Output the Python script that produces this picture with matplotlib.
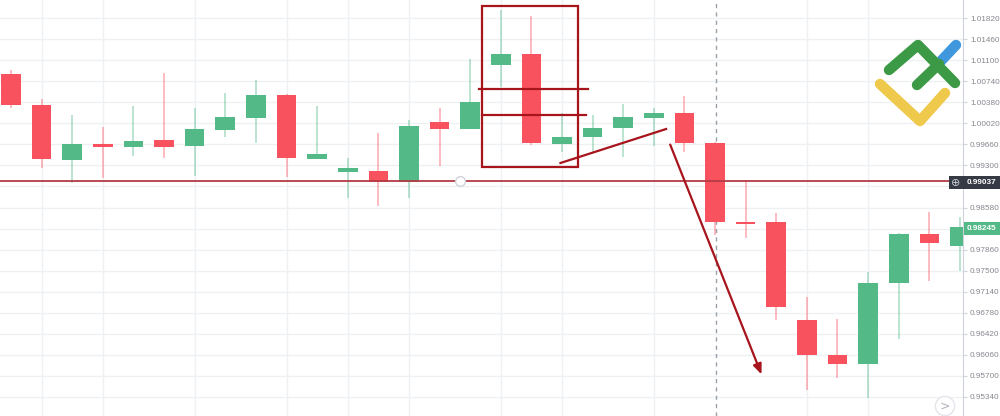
import matplotlib
matplotlib.use("Agg")
import matplotlib.pyplot as plt
from matplotlib.lines import Line2D
from matplotlib.patches import Rectangle

# --- dados das velas ---
opens = [1.00863, 1.00333, 0.99392, 0.99666, 0.99615, 0.99734, 0.99632, 0.99905,
         1.00110, 1.00504, 0.99409, 0.99187, 0.99204, 0.99016, 1.00042, 0.99922,
         1.01016, 1.01205, 0.99666, 0.99785, 0.99939, 1.00110, 1.00196, 0.99683,
         0.98332, 0.98332, 0.96657, 0.96058, 0.95904, 0.97289, 0.98127, 0.97922]
closes = [1.00333, 0.99409, 0.99666, 0.99615, 0.99717, 0.99615, 0.99922, 1.00127,
          1.00504, 0.99426, 0.99495, 0.99255, 0.99016, 0.99974, 0.99922, 1.00384,
          1.01205, 0.99683, 0.99785, 0.99939, 1.00127, 1.00196, 0.99683, 0.98332,
          0.98298, 0.96879, 0.96058, 0.95904, 0.97289, 0.98127, 0.97973, 0.98245]
highs = [1.00931, 1.00435, 1.00162, 0.99956, 1.00316, 1.00880, 1.00281, 1.00538,
         1.00760, 1.00521, 1.00316, 0.99426, 0.99854, 1.00076, 1.00281, 1.01119,
         1.01957, 1.01854, 1.00196, 1.00162, 1.00350, 1.00281, 1.00486, 0.99700,
         0.99050, 0.98486, 0.97050, 0.96674, 0.97477, 0.98140, 0.98503, 0.98418]
lows = [1.00281, 0.99255, 0.98999, 0.99084, 0.99461, 0.99426, 0.99119, 0.99785,
        0.99683, 0.99102, 0.99409, 0.98743, 0.98606, 0.98743, 0.99290, 0.99922,
        1.00640, 0.99649, 0.99529, 0.99529, 0.99444, 0.99632, 0.99529, 0.98110,
        0.98059, 0.96657, 0.95460, 0.95665, 0.95323, 0.96332, 0.97323, 0.97494]

price_ticks = [1.01820, 1.01460, 1.01100, 1.00740, 1.00380, 1.00020, 0.99660,
               0.99300, 0.98940, 0.98580, 0.98220, 0.97860, 0.97500, 0.97140,
               0.96780, 0.96420, 0.96060, 0.95700, 0.95340]
hidden_ticks = [0.98940, 0.98220]   # ficam atrás das caixas de preço
vgrid_idx = [1, 3, 6, 9, 11, 13, 16, 18, 21, 26, 28]

LEVEL = 0.99037
LAST = 0.98245

UP = "#53b987"
DOWN = "#f9525f"
ANNOT = "#a8141b"
FONT = "Liberation Sans"

fig = plt.figure(figsize=(10, 4.16), dpi=100)
ax = fig.add_axes([0, 0, 0.963, 1])

# --- grade ---
for p in price_ticks:
    ax.axhline(p, color="#eef0f4", lw=1, zorder=0)
for i in vgrid_idx:
    ax.axvline(i, color="#eef0f4", lw=1, zorder=0)

# --- velas ---
xs = list(range(len(opens)))
for x, o, h, l, c in zip(xs, opens, highs, lows, closes):
    color = UP if c >= o else DOWN
    ax.vlines(x, l, h, color=color, lw=1.1, alpha=0.5, zorder=2)
    ax.bar(x, abs(c - o), bottom=min(o, c), width=0.64, color=color, zorder=3)

# --- linha horizontal e cursor ---
ax.axhline(LEVEL, color="#b33a44", lw=1.3, zorder=4)
ax.plot([14.67], [LEVEL], marker="o", ms=7, mfc="white", mec="#d0d3da", mew=1, zorder=5)
ax.axvline(23.04, color="#9aa0aa", lw=1, ls=(0, (3, 3)), zorder=1)

# --- anotações ---
ax.add_patch(Rectangle((15.4, 0.99273), 3.13, 1.02025 - 0.99273, fill=False,
                       ec=ANNOT, lw=1.6, zorder=6))
ax.plot([15.3, 18.85], [1.00606, 1.00606], color=ANNOT, lw=1.6, zorder=6)
ax.plot([15.4, 18.8], [1.00162, 1.00162], color=ANNOT, lw=1.6, zorder=6)
ax.plot([17.95, 21.4], [0.99341, 0.99922], color=ANNOT, lw=1.6, zorder=6)
ax.annotate("", xy=(24.55, 0.95682), xytext=(21.5, 0.99700),
            arrowprops=dict(arrowstyle="-|>,head_length=0.6,head_width=0.25",
                            color=ANNOT, lw=1.6), zorder=6)

ax.set_xlim(-0.36, 31.1)
ax.set_ylim(0.95015, 1.02128)

# --- eixo de preços à direita ---
ax.yaxis.tick_right()
ax.set_yticks(price_ticks)
ax.set_yticklabels(["" if p in hidden_ticks else f"{p:.5f}" for p in price_ticks],
                   fontfamily=FONT)
ax.tick_params(axis="y", colors="#d0d3da", labelcolor="#85888f", labelsize=5.9,
               length=3, pad=2)
ax.set_xticks([])
for side in ["top", "left", "bottom"]:
    ax.spines[side].set_visible(False)
ax.spines["right"].set_color("#cfd3db")

# --- caixas de preço ---
def px(x, y):
    return x / 1000, 1 - y / 416

fig.patches.append(Rectangle(px(949, 189), 51 / 1000, 13 / 416, transform=fig.transFigure,
                             fc="#363a45", ec="none", zorder=10))
fig.text(*px(955.5, 182.5), "\u2295", color="#c8cad0", fontsize=8, ha="center", va="center", zorder=11)
fig.text(*px(967, 182.5), f"{LEVEL:.5f}", color="white", fontsize=5.9, ha="left",
         va="center", fontweight="bold", fontfamily=FONT, zorder=11)
fig.patches.append(Rectangle(px(964, 235), 36 / 1000, 13 / 416, transform=fig.transFigure,
                             fc=UP, ec="none", zorder=10))
fig.text(*px(967, 228.5), f"{LAST:.5f}", color="white", fontsize=5.9, ha="left",
         va="center", fontweight="bold", fontfamily=FONT, zorder=11)

# --- botão ---
fig.text(*px(945, 406), ">", color="#b0b3ba", fontsize=9, ha="center", va="center",
         bbox=dict(boxstyle="circle,pad=0.25", fc="white", ec="#e3e5ea"))

# --- logo ---
def stroke(points, color):
    xs_ = [px(x, y)[0] for x, y in points]
    ys_ = [px(x, y)[1] for x, y in points]
    fig.add_artist(Line2D(xs_, ys_, color=color, lw=7.5, solid_capstyle="round",
                          solid_joinstyle="round", transform=fig.transFigure))

stroke([(880, 84), (920, 121), (945, 93)], "#efc94c")
stroke([(940, 62), (956, 45)], "#3f97dd")
stroke([(889, 70), (918, 45), (955, 83)], "#3c9a46")
stroke([(917, 85), (939, 64)], "#3c9a46")

fig.savefig("out.png", dpi=100)
